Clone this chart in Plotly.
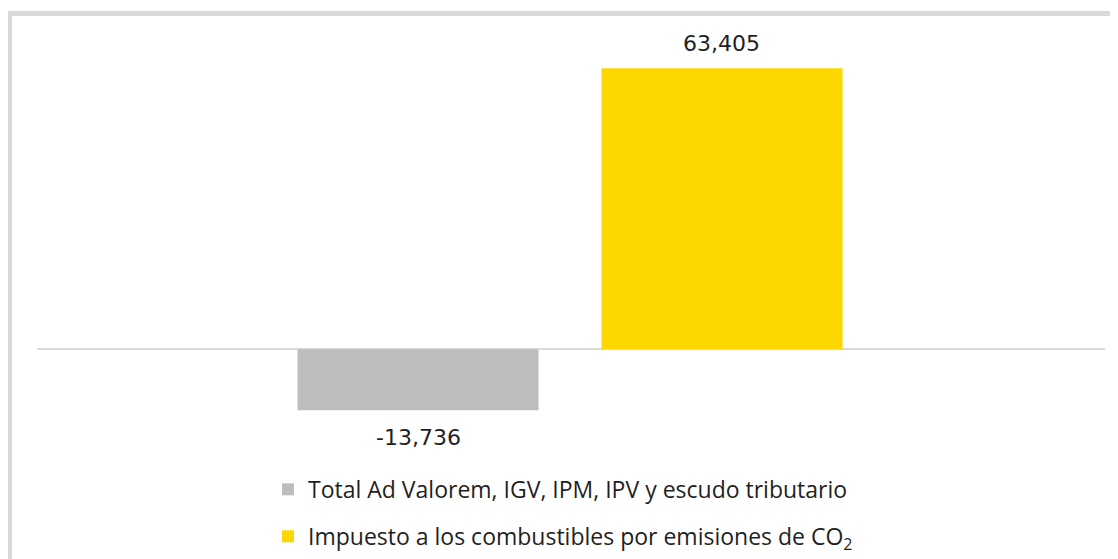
import plotly.graph_objects as go

series_names = [
    "Total Ad Valorem, IGV, IPM, IPV y escudo tributario",
    "Impuesto a los combustibles por emisiones de CO<sub>2</sub>",
]
series_values = [-13736, 63405]
value_labels = ["-13,736", "63,405"]
series_colors = ["#bdbdbc", "#ffd700"]

LABEL_FONT = "DejaVu Sans"
LEGEND_FONT = "Open Sans"
TXT = "#1f1f1f"

fig = go.Figure()
for i, (name, val, col) in enumerate(zip(series_names, series_values, series_colors)):
    fig.add_trace(go.Bar(
        x=[i], y=[val], name=name, marker=dict(color=col, line=dict(width=0)),
        width=0.793, legendgroup=f"g{i}", hoverinfo="skip",
    ))
    fig.add_annotation(
        x=i, y=val, xref="x", yref="y", text=value_labels[i], showarrow=False,
        yshift=25 if val > 0 else -27, font=dict(family=LABEL_FONT, size=22, color=TXT),
    )

fig.update_layout(
    width=1118, height=559,
    margin=dict(l=29, r=21, t=31, b=129, autoexpand=False),
    paper_bgcolor="white", plot_bgcolor="white",
    barmode="overlay",
    showlegend=True,
    legend=dict(
        orientation="v", x=0.2163, y=-0.075, xanchor="left", yanchor="top",
        font=dict(family=LEGEND_FONT, size=23, color=TXT),
        tracegroupgap=14, traceorder="grouped", itemwidth=30,
        bgcolor="rgba(0,0,0,0)",
    ),
    xaxis=dict(range=[-1.2533, 2.2599], showticklabels=False, showgrid=False,
               zeroline=False, showline=False, ticks=""),
    yaxis=dict(range=[-20000, 70000], showticklabels=False, showgrid=False,
               zeroline=True, zerolinecolor="#d9d9d9", zerolinewidth=2,
               showline=False, ticks=""),
    shapes=[dict(
        type="rect", xref="paper", yref="paper",
        x0=-0.02575, x1=1.03, y0=-0.35, y1=1.0639,
        line=dict(color="#d9d9d9", width=5), fillcolor="rgba(0,0,0,0)", layer="above",
    )],
)

fig.write_html("out.html")
